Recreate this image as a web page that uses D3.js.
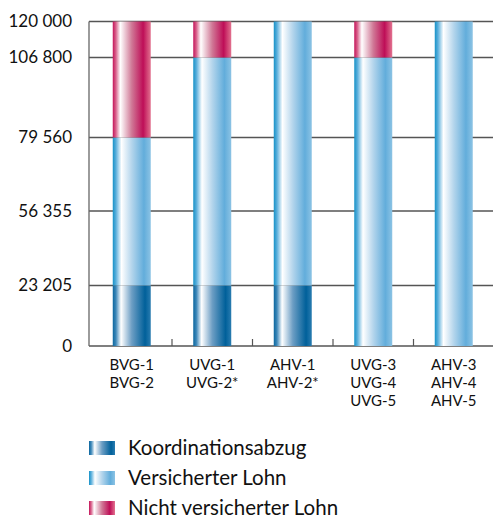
<!DOCTYPE html>
<html>
<head>
<meta charset="utf-8">
<script src="https://cdn.jsdelivr.net/npm/d3@7.9.0/dist/d3.min.js"></script>
<style>
  body { margin: 0; background: #fff; }
  svg { display: block; font-family: Lato, "Noto Sans", sans-serif; }
</style>
</head>
<body>
<svg width="493" height="519"></svg>
<script>
// categories (multi-line labels)
const categories = ["BVG", "UVG-1", "AHV-1", "UVG-3", "AHV-3"];
const categoryLabels = [
  ["BVG-1", "BVG-2"],
  ["UVG-1", "UVG-2*"],
  ["AHV-1", "AHV-2*"],
  ["UVG-3", "UVG-4", "UVG-5"],
  ["AHV-3", "AHV-4", "AHV-5"]
];
// series values (stacked from bottom)
const koordinationsabzug = [23205, 23205, 23205, 0, 0];
const versicherterLohn = [56355, 83595, 96795, 106800, 120000];
const nichtVersichert = [40440, 13200, 0, 13200, 0];

const seriesNames = ["Koordinationsabzug", "Versicherter Lohn", "Nicht versicherter Lohn"];
const tickValues = [0, 23205, 56355, 79560, 106800, 120000];
const tickLabels = ["0", "23 205", "56 355", "79 560", "106 800", "120 000"];

const svg = d3.select("svg");
const defs = svg.append("defs");

// horizontal cylinder-like gradients
function grad(id, stops) {
  const g = defs.append("linearGradient").attr("id", id)
    .attr("x1", 0).attr("x2", 1).attr("y1", 0).attr("y2", 0);
  stops.forEach(([o, c]) => g.append("stop").attr("offset", o).attr("stop-color", c));
}
grad("g0", [[0, "#0c679e"], [0.08, "#3a86b8"], [0.22, "#ffffff"], [0.5, "#6d9ec4"], [0.85, "#00609a"], [1, "#2a7cb0"]]);
grad("g1", [[0, "#1792c7"], [0.08, "#56addb"], [0.23, "#ffffff"], [0.5, "#b4d5ec"], [0.82, "#62addb"], [1, "#8cc3e4"]]);
grad("g2", [[0, "#c4145a"], [0.08, "#d8608a"], [0.2, "#ffffff"], [0.5, "#d07896"], [0.8, "#be0e57"], [1, "#e2728f"]]);
const fills = ["url(#g0)", "url(#g1)", "url(#g2)"];

// non-linear value axis as drawn in the original
const y = d3.scaleLinear()
  .domain(tickValues)
  .range([346, 285.5, 211, 137.5, 57.5, 21.5]);

const x = d3.scaleBand()
  .domain(categories)
  .range([91.5, 494])
  .paddingInner(0.528)
  .paddingOuter(0.264);

// gridlines
svg.append("g").selectAll("line")
  .data(tickValues)
  .join("line")
  .attr("x1", 89).attr("x2", 493)
  .attr("y1", d => y(d)).attr("y2", d => y(d))
  .attr("stroke", "#555").attr("stroke-width", 1.3);

// y axis line
svg.append("line")
  .attr("x1", 89).attr("x2", 89)
  .attr("y1", y(120000)).attr("y2", y(0))
  .attr("stroke", "#666").attr("stroke-width", 1.3);

// tick labels
svg.append("g").selectAll("text")
  .data(tickValues)
  .join("text")
  .attr("x", 72)
  .attr("y", d => y(d))
  .attr("dy", "0.35em")
  .attr("text-anchor", "end")
  .attr("font-size", 17)
  .attr("fill", "#111")
  .text((d, i) => tickLabels[i]);

// separators between categories
svg.append("g").selectAll("line")
  .data(categories.slice(1))
  .join("line")
  .attr("x1", d => x(d) - x.step() * x.paddingInner() / 2)
  .attr("x2", d => x(d) - x.step() * x.paddingInner() / 2)
  .attr("y1", y(0) - 7).attr("y2", y(0))
  .attr("stroke", "#555").attr("stroke-width", 1.2);

// stacked bars
const rows = categories.map((c, i) => ({
  cat: c, k: koordinationsabzug[i], v: versicherterLohn[i], n: nichtVersichert[i]
}));
const stack = d3.stack().keys(["k", "v", "n"])(rows);

svg.append("g").selectAll("g")
  .data(stack)
  .join("g")
  .attr("fill", (d, i) => fills[i])
  .selectAll("rect")
  .data(d => d.filter(s => s[1] > s[0]))
  .join("rect")
  .attr("x", d => x(d.data.cat))
  .attr("width", x.bandwidth())
  .attr("y", d => y(d[1]))
  .attr("height", d => y(d[0]) - y(d[1]));

// category labels
svg.append("g").selectAll("text")
  .data(categories)
  .join("text")
  .attr("x", d => x(d) + x.bandwidth() / 2)
  .attr("y", 370)
  .attr("text-anchor", "middle")
  .attr("font-size", 15)
  .attr("fill", "#111")
  .selectAll("tspan")
  .data((d, i) => categoryLabels[i])
  .join("tspan")
  .attr("x", function () { return this.parentNode.getAttribute("x"); })
  .attr("dy", (d, i) => i === 0 ? 0 : 18)
  .text(d => d);

// legend
const legend = svg.append("g").selectAll("g")
  .data(seriesNames)
  .join("g")
  .attr("transform", (d, i) => `translate(89, ${448 + i * 30})`);
legend.append("rect")
  .attr("x", 0).attr("y", -7)
  .attr("width", 26).attr("height", 14)
  .attr("fill", (d, i) => fills[i]);
legend.append("text")
  .attr("x", 39).attr("dy", "0.35em")
  .attr("font-size", 20.5)
  .attr("fill", "#111")
  .text(d => d);
</script>
</body>
</html>
